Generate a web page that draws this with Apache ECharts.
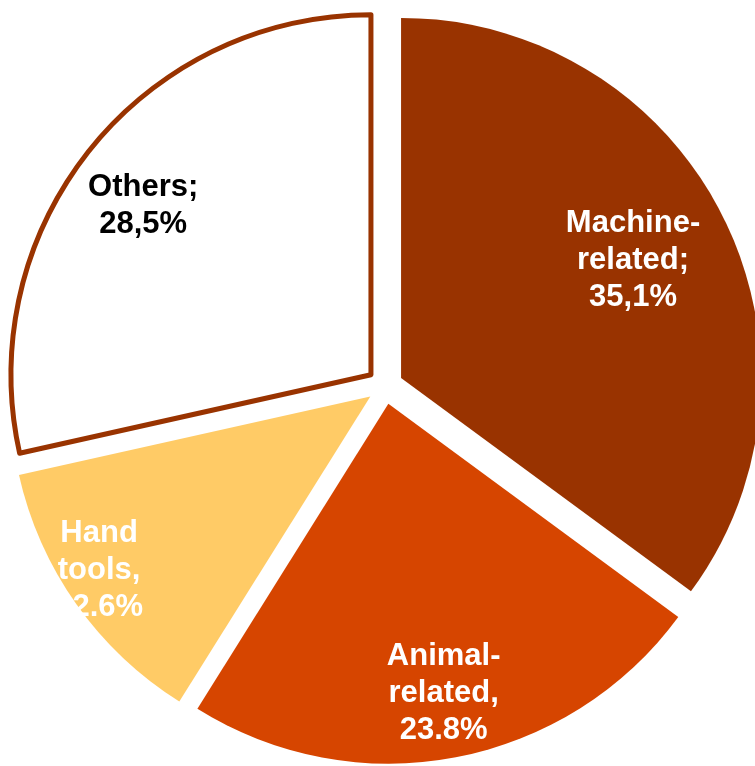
<!DOCTYPE html>
<html>
<head>
<meta charset="utf-8">
<script src="https://cdn.jsdelivr.net/npm/echarts@6/dist/echarts.min.js"></script>
<style>
  html, body { margin: 0; padding: 0; background: #ffffff; }
  #chart { width: 755px; height: 766px; }
</style>
</head>
<body>
<div id="chart"></div>
<script>
// ---- data ----
const categories = ['Machine-related', 'Animal-related', 'Hand tools', 'Others'];
const shares = [35.1, 23.8, 12.6, 28.5];
const labelTexts = ['Machine-\nrelated;\n35,1%', 'Animal-\nrelated,\n23.8%', 'Hand\ntools,\n12.6%', 'Others;\n28,5%'];

// ---- style ----
const fills = ['#993300', '#D64500', '#FFCB66', '#FFFFFF'];
const borders = ['#993300', '#D64500', '#FFCB66', '#993300'];
const borderWidths = [0, 0, 0, 5];
const labelColors = ['#FFFFFF', '#FFFFFF', '#FFFFFF', '#000000'];
const labelRadial = [0.722, 0.82, 0.895, 0.787];
const labelAngleTweak = [0, 0, 2.6, -2.2];
const CX = 385, CY = 386, R = 360, OFFSET = 18;
const FONT = 'bold 31px "Liberation Sans", Arial, sans-serif';
const LINE_H = 37;

const total = shares.reduce((a, b) => a + b, 0);
const midAngles = [];
let acc = 0;
shares.forEach(v => { midAngles.push((acc + v / 2) / total * 360); acc += v; });
function dir(deg) { const r = deg * Math.PI / 180; return [Math.sin(r), -Math.cos(r)]; }

const labelGraphics = shares.map((v, i) => {
  const m = dir(midAngles[i]);
  const t = dir(midAngles[i] + labelAngleTweak[i]);
  const vx = CX + OFFSET * m[0], vy = CY + OFFSET * m[1];
  return {
    type: 'text',
    x: vx + labelRadial[i] * R * t[0],
    y: vy + labelRadial[i] * R * t[1],
    z: 100,
    silent: true,
    style: {
      text: labelTexts[i],
      fill: labelColors[i],
      font: FONT,
      lineHeight: LINE_H,
      align: 'center',
      verticalAlign: 'middle'
    }
  };
});

const chart = echarts.init(document.getElementById('chart'), null, { renderer: 'canvas' });
chart.setOption({
  animation: false,
  backgroundColor: '#ffffff',
  graphic: { elements: labelGraphics },
  series: [{
    type: 'pie',
    center: [CX, CY],
    radius: R,
    startAngle: 90,
    clockwise: true,
    selectedMode: 'multiple',
    selectedOffset: OFFSET,
    avoidLabelOverlap: false,
    emphasis: { disabled: true },
    label: { show: false },
    labelLine: { show: false },
    data: categories.map((c, i) => ({
      name: c,
      value: shares[i],
      selected: true,
      itemStyle: { color: fills[i], borderColor: borders[i], borderWidth: borderWidths[i] },
      select: { itemStyle: { color: fills[i], borderColor: borders[i], borderWidth: borderWidths[i] } }
    }))
  }]
});
</script>
</body>
</html>
